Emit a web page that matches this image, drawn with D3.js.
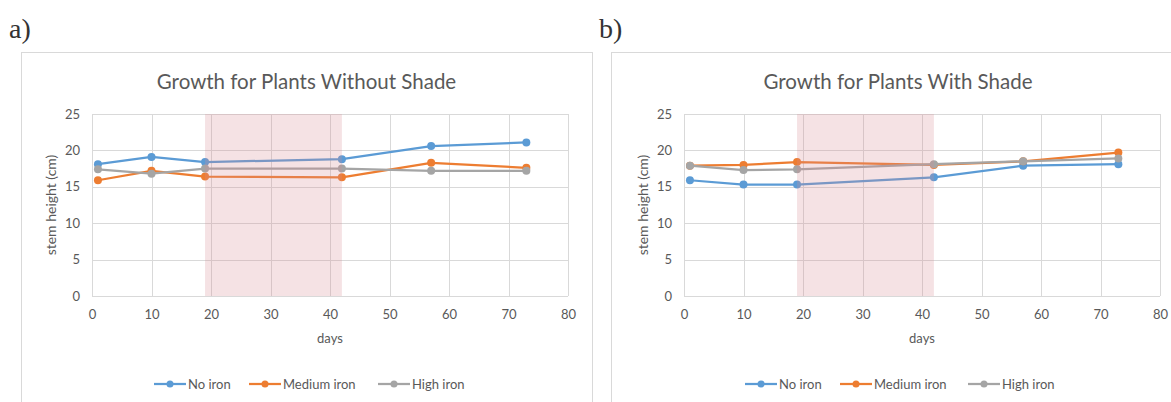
<!DOCTYPE html>
<html><head><meta charset="utf-8">
<script src="https://cdn.jsdelivr.net/npm/d3@7"></script>
<style>
body{margin:0;background:#fff;}
svg{display:block;font-family:Lato, "Open Sans", sans-serif;}
</style></head>
<body>
<svg id="chart" width="1171" height="402"></svg>
<script>
const days = [1, 10, 19, 42, 57, 73];
const seriesNames = ["No iron", "Medium iron", "High iron"];
const seriesColors = ["#5b9bd5", "#ed7d31", "#a5a5a5"];
const xTicks = [0, 10, 20, 30, 40, 50, 60, 70, 80];
const yTicks = [0, 5, 10, 15, 20, 25];
const shadeRange = [19, 42];

// Panel a) without shade
const noShadeNoIron = [18.1, 19.1, 18.4, 18.8, 20.6, 21.1];
const noShadeMedium = [15.9, 17.2, 16.4, 16.3, 18.3, 17.6];
const noShadeHigh   = [17.4, 16.8, 17.5, 17.5, 17.2, 17.2];
// Panel b) with shade
const shadeNoIron = [15.9, 15.3, 15.3, 16.3, 17.9, 18.1];
const shadeMedium = [17.9, 18.0, 18.4, 18.0, 18.5, 19.7];
const shadeHigh   = [17.9, 17.3, 17.4, 18.1, 18.5, 18.9];

const svg = d3.select("#chart");

function drawPanel(cfg) {
  const g = svg.append("g");
  g.append("rect").attr("x", cfg.px + 0.5).attr("y", 52.5)
    .attr("width", cfg.pw).attr("height", 400)
    .attr("fill", "none").attr("stroke", "#d9d9d9").attr("stroke-width", 1);
  g.append("text").attr("x", cfg.lx).attr("y", 38)
    .attr("font-family", "Liberation Serif, serif").attr("font-size", 28)
    .attr("fill", "#333").text(cfg.letter);
  g.append("text").attr("x", cfg.px + cfg.pw / 2).attr("y", 89)
    .attr("text-anchor", "middle").attr("font-size", 20.5).attr("fill", "#595959")
    .text(cfg.title);

  const x = d3.scaleLinear().domain([0, 80]).range([cfg.x0, cfg.x0 + 476]);
  const y = d3.scaleLinear().domain([0, 25]).range([296, 114]);

  g.append("g").selectAll("line").data(yTicks).join("line")
    .attr("x1", x(0)).attr("x2", x(80))
    .attr("y1", d => Math.round(y(d)) + 0.5).attr("y2", d => Math.round(y(d)) + 0.5)
    .attr("stroke", "#d9d9d9").attr("stroke-width", 1);
  g.append("g").selectAll("line").data(xTicks).join("line")
    .attr("y1", y(0)).attr("y2", y(25))
    .attr("x1", d => Math.round(x(d)) + 0.5).attr("x2", d => Math.round(x(d)) + 0.5)
    .attr("stroke", "#d9d9d9").attr("stroke-width", 1);

  const xAxis = d3.axisBottom(x).tickValues(xTicks).tickSize(0).tickPadding(14);
  const gx = g.append("g").attr("transform", `translate(0,${y(0)})`).call(xAxis);
  gx.select(".domain").remove();
  gx.selectAll("text").attr("font-size", 13).attr("fill", "#595959").attr("font-family", "Lato, sans-serif");
  const yAxis = d3.axisLeft(y).tickValues(yTicks).tickSize(0).tickPadding(12);
  const gy = g.append("g").attr("transform", `translate(${x(0)},0)`).call(yAxis);
  gy.select(".domain").remove();
  gy.selectAll("text").attr("font-size", 13).attr("fill", "#595959").attr("font-family", "Lato, sans-serif");

  g.append("text").attr("x", (x(0) + x(80)) / 2).attr("y", 343)
    .attr("text-anchor", "middle").attr("font-size", 13).attr("fill", "#595959").text("days");
  g.append("text").attr("transform", `translate(${x(0) - 36},${y(12.5)}) rotate(-90)`)
    .attr("text-anchor", "middle").attr("font-size", 14).attr("fill", "#595959").text("stem height (cm)");

  const line = d3.line().x((d, i) => x(days[i])).y(d => y(d));
  cfg.series.forEach((vals, si) => {
    g.append("path").datum(vals).attr("d", line).attr("fill", "none")
      .attr("stroke", seriesColors[si]).attr("stroke-width", 2.25).attr("stroke-linejoin", "round");
    g.append("g").selectAll("circle").data(vals).join("circle")
      .attr("cx", (d, i) => x(days[i])).attr("cy", d => y(d)).attr("r", 4)
      .attr("fill", seriesColors[si]);
  });

  g.append("rect").attr("x", x(shadeRange[0])).attr("width", x(shadeRange[1]) - x(shadeRange[0]))
    .attr("y", y(25)).attr("height", y(0) - y(25))
    .attr("fill", "#d98c94").attr("fill-opacity", 0.25);

  const lg = g.append("g").attr("transform", `translate(0,384)`);
  cfg.legendX.forEach((lx, si) => {
    lg.append("line").attr("x1", lx).attr("x2", lx + 32).attr("y1", 0).attr("y2", 0)
      .attr("stroke", seriesColors[si]).attr("stroke-width", 2.25);
    lg.append("circle").attr("cx", lx + 16).attr("cy", 0).attr("r", 3.5).attr("fill", seriesColors[si]);
    lg.append("text").attr("x", lx + 34).attr("y", 4.5).attr("font-size", 13).attr("fill", "#595959")
      .text(seriesNames[si]);
  });
}

drawPanel({
  letter: "a)", lx: 9, px: 21, pw: 571, x0: 92,
  title: "Growth for Plants Without Shade",
  series: [noShadeNoIron, noShadeMedium, noShadeHigh],
  legendX: [154, 249, 378]
});
drawPanel({
  letter: "b)", lx: 599, px: 611, pw: 574, x0: 684,
  title: "Growth for Plants With Shade",
  series: [shadeNoIron, shadeMedium, shadeHigh],
  legendX: [745, 840, 968]
});
</script>
</body></html>
